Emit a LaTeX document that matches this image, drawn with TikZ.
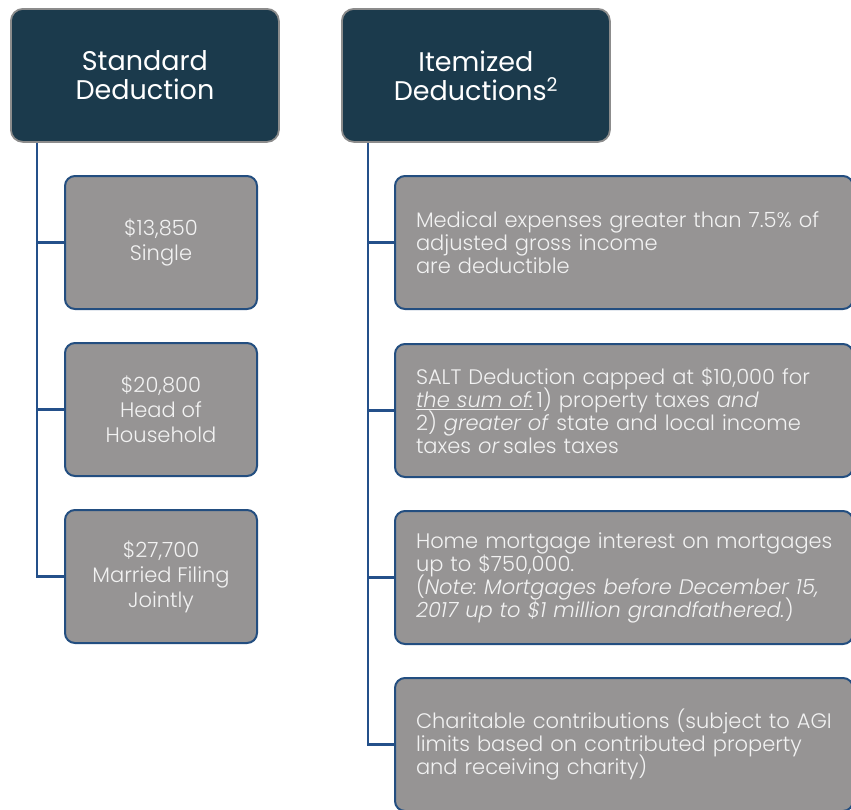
\documentclass[tikz,border=0pt]{standalone}
\usepackage{fontspec}
\setmainfont{Poppins}
\newfontfamily\lightfont{Poppins Light}[ItalicFont={Poppins Light Italic}]
\frenchspacing
% keep baselines evenly spaced regardless of glyph heights
\newcommand\evenlines{\lineskiplimit=-20pt\relax}
\definecolor{headfill}{HTML}{1B3A4C}
\definecolor{headborder}{HTML}{8C8C8C}
\definecolor{itemfill}{HTML}{969494}
\definecolor{itemborder}{HTML}{234E80}
\definecolor{itemtext}{HTML}{F2F2F2}
\definecolor{linkcol}{HTML}{24508A}
\begin{document}
\begin{tikzpicture}[x=1pt,y=-1pt,
  head/.style={draw=headborder, fill=headfill, line width=1.8pt, rounded corners=12pt,
    minimum width=268pt, minimum height=133pt, inner sep=0pt, text=white, align=center,
    anchor=north west, font=\fontsize{27}{29}\selectfont\evenlines},
  amount/.style={draw=itemborder, fill=itemfill, line width=2pt, rounded corners=10pt,
    minimum width=192pt, minimum height=133pt, inner sep=0pt, text=itemtext, align=center,
    anchor=north west, font=\lightfont\fontsize{21}{25}\selectfont\evenlines},
  rule/.style={draw=itemborder, fill=itemfill, line width=2pt, rounded corners=10pt,
    minimum height=133pt, text width=416pt, inner xsep=21pt, inner ysep=0pt, text=itemtext,
    align=left, anchor=north west, font=\lightfont\fontsize{21}{23}\selectfont\evenlines},
  link/.style={draw=linkcol, line width=2.4pt}]
\useasboundingbox (0,0) rectangle (851,809);
\fill[white] (0,0) rectangle (851,809);

% column headings
\node[head] (std) at (10,8) {Standard\\Deduction};
\node[head] (itm) at (341,8) {Itemized\\Deductions\textsuperscript{2}};

% standard deduction amounts
\node[amount] (s1) at (64,175) {\$13,850\\Single};
\node[amount] (s2) at (64,342) {\$20,800\\Head of\\Household};
\node[amount] (s3) at (64,509) {\$27,700\\Married Filing\\Jointly};

% itemized deduction rules
\node[rule] (r1) at (394,175) {Medical expenses greater than 7.5\% of\\adjusted gross income\\are deductible};
\node[rule] (r2) at (394,343) {SALT Deduction capped at \$10,000 for\\\underline{\textit{the sum of:}}\,1) property taxes \textit{and}\\2) \textit{greater of} state and local income\\taxes \textit{or}\,sales taxes};
\node[rule] (r3) at (394,510) {\mbox{Home mortgage interest on mortgages}\\up to \$750,000.\\(\textit{Note: Mortgages before December 15,}\\\textit{2017 up to \$1 million grandfathered.})};
\node[rule] (r4) at (394,677) {\mbox{Charitable contributions (subject to AGI}\\limits based on contributed property\\and receiving charity)};

% connectors
\coordinate (tl) at ([xshift=27pt]std.south west);
\coordinate (tr) at ([xshift=27pt]itm.south west);
\draw[link] (tl) |- (s3.west);
\draw[link] (tl |- s1.west) -- (s1.west);
\draw[link] (tl |- s2.west) -- (s2.west);
\draw[link] (tr) |- (r4.west);
\draw[link] (tr |- r1.west) -- (r1.west);
\draw[link] (tr |- r2.west) -- (r2.west);
\draw[link] (tr |- r3.west) -- (r3.west);
\end{tikzpicture}
\end{document}
